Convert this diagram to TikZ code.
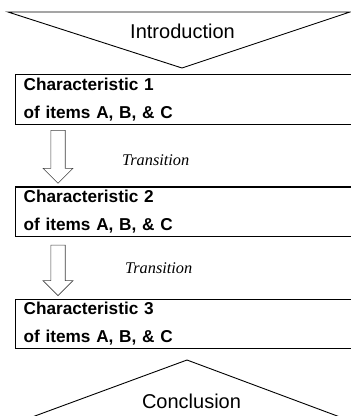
\documentclass[tikz,border=0pt]{standalone}
\usepackage{fontspec}
\setmainfont{Liberation Serif}
\setsansfont{Liberation Sans}
\usetikzlibrary{positioning,calc}

% hollow block arrow from #1 (shaft top) down to #2 (tip)
\newcommand{\blockdown}[2]{%
  \draw[blockarrow] ($(#1)+(-7.2,0)$) -- ($(#2)+(-7.2,15)$) -- ($(#2)+(-15,15)$)
    -- (#2) -- ($(#2)+(15,15)$) -- ($(#2)+(7.2,15)$) -- ($(#1)+(7.2,0)$) -- cycle;}

\begin{document}
\begin{tikzpicture}
[x=1pt, y=1pt,
funnel/.style={draw=black, line width=0.9pt},
bigtext/.style={font=\sffamily\fontsize{20}{24}\selectfont, inner sep=0},
charbox/.style={rectangle, draw=black, line width=1.3pt, minimum width=345pt, minimum height=49.5pt,
  text width=329pt, inner xsep=8pt, inner ysep=0pt, align=left,
  font=\sffamily\bfseries\fontsize{17.2}{28}\selectfont},
transtext/.style={font=\rmfamily\itshape\fontsize{16.3}{20}\selectfont, inner sep=0, anchor=base west},
blockarrow/.style={draw=black!75, line width=0.6pt, fill=white}
]
\useasboundingbox (0,0) rectangle (351,-416);

%Nodes
\coordinate (introL) at (8,-12);
\coordinate (introR) at (350,-12);
\coordinate (introV) at (182,-68);
\node[bigtext, anchor=base] (intro) at (182.5,-38) {Introduction};

\node[charbox, anchor=north west] (char1) at (15,-74) {Characteristic 1\\of items A, B, \& C};
\node[charbox, below=61.5pt of char1] (char2) {Characteristic 2\\of items A, B, \& C};
\node[charbox, below=61.5pt of char2] (char3) {Characteristic 3\\of items A, B, \& C};

\node[transtext] (trans1) at ($(char1.south west)+(107,-40.5)$) {Transition};
\node[transtext] (trans2) at ($(char2.south west)+(110,-36)$) {Transition};

\coordinate (concV) at (187,-360);
\coordinate (concL) at (24,-420);
\coordinate (concR) at (348,-420);
\node[bigtext, anchor=base] (conc) at (191.5,-408) {Conclusion};

%Lines
\draw[funnel] (introL) -- (introR) -- (introV) -- cycle;
\draw[funnel] (concL) -- (concV) -- (concR);

\coordinate (a1s) at ($(char1.south west)+(43,-5.5)$);
\coordinate (a1e) at ($(char2.north west)+(43,3)$);
\coordinate (a2s) at ($(char2.south west)+(43,-8)$);
\coordinate (a2e) at ($(char3.north west)+(43,3)$);
\blockdown{a1s}{a1e}
\blockdown{a2s}{a2e}

\end{tikzpicture}
\end{document}
